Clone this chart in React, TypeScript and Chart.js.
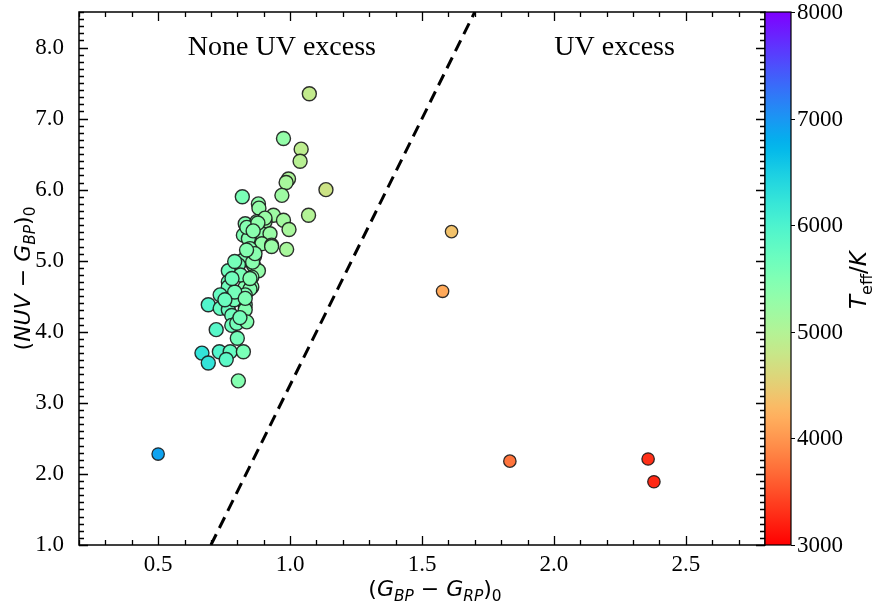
import { useEffect, useRef } from "react";
import { Chart, registerables } from "chart.js";
Chart.register(...registerables);

// ---- data ----
const clusterX = [
  1.073, 0.975, 1.042, 1.038, 0.994, 0.985, 1.136, 0.969, 0.819, 0.88,
  0.882, 0.937, 1.07, 0.975, 0.83, 0.874, 0.905, 0.996, 0.842, 0.893,
  0.924, 0.823, 0.842, 0.893, 0.93, 0.848, 0.987, 0.865, 0.823, 0.804,
  0.861, 0.88, 0.766, 0.855, 0.766, 0.83, 0.855, 0.766, 0.848, 0.735,
  0.798, 0.83, 0.69, 0.735, 0.766, 0.83, 0.83, 0.779, 0.779, 0.798,
  0.836, 0.72, 0.8, 0.666, 0.69, 0.732, 0.773, 0.758, 0.823, 0.804,
  0.836, 0.812, 0.788, 0.858, 0.905,
  0.867, 0.79, 0.753, 0.83, 0.878, 0.835, 0.848, 0.93, 0.86, 0.81, 0.79, 0.78,
];
const clusterY = [
  7.35, 6.72, 6.57, 6.4, 6.15, 6.1, 6.0, 5.92, 5.9, 5.8,
  5.74, 5.64, 5.64, 5.57, 5.52, 5.55, 5.55, 5.44, 5.41, 5.38,
  5.38, 5.36, 5.31, 5.24, 5.22, 5.17, 5.16, 5.06, 5.01, 4.94,
  4.94, 4.86, 4.86, 4.77, 4.7, 4.63, 4.63, 4.63, 4.6, 4.52,
  4.52, 4.52, 4.38, 4.33, 4.31, 4.38, 4.31, 4.23, 4.09, 4.12,
  4.14, 4.03, 3.91, 3.7, 3.56, 3.72, 3.72, 3.61, 3.72, 3.31,
  5.47, 4.8, 4.45, 4.98, 5.6,
  5.1, 4.56, 4.45, 4.47, 5.53, 5.15, 4.75, 5.2, 5.42, 4.2, 4.99, 4.75,
];
const clusterTeff = [
  4850, 5300, 4900, 4950, 5050, 5100, 4750, 5200, 5550, 5350,
  5300, 5200, 5000, 5150, 5450, 5350, 5250, 5100, 5450, 5350,
  5250, 5500, 5450, 5300, 5250, 5450, 5100, 5400, 5500, 5550,
  5400, 5300, 5650, 5400, 5650, 5450, 5400, 5650, 5450, 5750,
  5550, 5500, 5950, 5750, 5700, 5500, 5450, 5650, 5650, 5600,
  5450, 5900, 5600, 6250, 6250, 5950, 5750, 5850, 5550, 5450,
  5450, 5550, 5600, 5400, 5250,
  5400, 5600, 5700, 5500, 5350, 5450, 5450, 5250, 5400, 5600, 5600, 5650,
];
const otherX = [0.5, 1.612, 1.578, 1.833, 2.357, 2.379];
const otherY = [2.28, 5.41, 4.57, 2.18, 2.21, 1.89];
const otherTeff = [6900, 4375, 4150, 3750, 3300, 3250];

const boundaryX = [0.7, 1.7];
const boundaryY = [1.0, 8.5];

const xTicks = [0.5, 1.0, 1.5, 2.0, 2.5];
const yTicks = [1, 2, 3, 4, 5, 6, 7, 8];
const cbarTicks = [3000, 4000, 5000, 6000, 7000, 8000];
const X_MIN = 0.2, X_MAX = 2.8, Y_MIN = 1.0, Y_MAX = 8.5;
const T_MIN = 3000, T_MAX = 8000;

const SERIF = "'Liberation Serif', 'Times New Roman', serif";
const SANS = "'DejaVu Sans', sans-serif";

function rainbowR(T: number): string {
  let v = (T - T_MIN) / (T_MAX - T_MIN);
  v = Math.max(0, Math.min(1, v));
  const t = 1 - v;
  const cl = (a: number) => Math.max(0, Math.min(1, a));
  const r = cl(Math.abs(2 * t - 0.5));
  const g = cl(Math.sin(Math.PI * t));
  const b = cl(Math.cos((Math.PI * t) / 2));
  return `rgb(${Math.round(r * 255)},${Math.round(g * 255)},${Math.round(b * 255)})`;
}

type Seg = { t: string; it?: boolean; sub?: boolean };
function drawRich(ctx: CanvasRenderingContext2D, segs: Seg[], cx: number, cy: number, rot: number, size: number, family: string) {
  ctx.save();
  ctx.translate(cx, cy);
  ctx.rotate(rot);
  const subSize = size * 0.7;
  const fontOf = (s: Seg) => `${s.it ? "italic " : ""}${s.sub ? subSize : size}px ${family}`;
  let w = 0;
  for (const s of segs) {
    ctx.font = fontOf(s);
    w += ctx.measureText(s.t).width;
  }
  let x = -w / 2;
  ctx.textBaseline = "middle";
  ctx.textAlign = "left";
  ctx.fillStyle = "#000";
  for (const s of segs) {
    ctx.font = fontOf(s);
    ctx.fillText(s.t, x, s.sub ? size * 0.32 : 0);
    x += ctx.measureText(s.t).width;
  }
  ctx.restore();
}

const decorPlugin = {
  id: "decor",
  afterDatasetsDraw(chart: any) {
    const ctx: CanvasRenderingContext2D = chart.ctx;
    const { left, right, top, bottom } = chart.chartArea;
    const xs = chart.scales.x;
    const ys = chart.scales.y;
    ctx.save();
    // spines
    ctx.strokeStyle = "#000";
    ctx.lineWidth = 1.5;
    ctx.strokeRect(left, top, right - left, bottom - top);
    // inward ticks
    const MAJ = 9, MIN = 5;
    ctx.lineWidth = 1.3;
    ctx.beginPath();
    for (let i = Math.round(X_MIN * 10); i <= Math.round(X_MAX * 10); i++) {
      const v = i / 10;
      const isMaj = xTicks.some((m) => Math.abs(m - v) < 1e-6);
      const px = Math.round(xs.getPixelForValue(v)) + 0.5;
      const L = isMaj ? MAJ : MIN;
      ctx.moveTo(px, bottom); ctx.lineTo(px, bottom - L);
      ctx.moveTo(px, top); ctx.lineTo(px, top + L);
    }
    for (let i = Math.round(Y_MIN * 10); i <= Math.round(Y_MAX * 10); i++) {
      const v = i / 10;
      const isMaj = yTicks.some((m) => Math.abs(m - v) < 1e-6);
      const py = Math.round(ys.getPixelForValue(v)) + 0.5;
      const L = isMaj ? MAJ : MIN;
      ctx.moveTo(left, py); ctx.lineTo(left + L, py);
      ctx.moveTo(right, py); ctx.lineTo(right - L, py);
    }
    ctx.stroke();

    // colorbar
    const cbL = right, cbR = right + 26;
    const tToY = (T: number) => bottom - ((T - T_MIN) / (T_MAX - T_MIN)) * (bottom - top);
    const grad = ctx.createLinearGradient(0, bottom, 0, top);
    for (let k = 0; k <= 50; k++) {
      grad.addColorStop(k / 50, rainbowR(T_MIN + (k / 50) * (T_MAX - T_MIN)));
    }
    ctx.fillStyle = grad;
    ctx.fillRect(cbL, top, cbR - cbL, bottom - top);
    ctx.lineWidth = 1.2;
    ctx.strokeStyle = "#000";
    ctx.strokeRect(cbL, top, cbR - cbL, bottom - top);
    ctx.beginPath();
    ctx.font = `23px ${SERIF}`;
    ctx.fillStyle = "#000";
    ctx.textAlign = "left";
    ctx.textBaseline = "middle";
    for (const T of cbarTicks) {
      const py = Math.round(tToY(T)) + 0.5;
      ctx.moveTo(cbR, py); ctx.lineTo(cbR + 4, py);
    }
    ctx.stroke();
    for (const T of cbarTicks) {
      ctx.fillText(String(T), cbR + 6, tToY(T) + 1);
    }

    // annotations
    ctx.font = `28px ${SERIF}`;
    ctx.textAlign = "center";
    ctx.textBaseline = "middle";
    ctx.fillText("None UV excess", xs.getPixelForValue(0.969), ys.getPixelForValue(8.0));
    ctx.fillText("UV excess", xs.getPixelForValue(2.23), ys.getPixelForValue(8.0));

    // axis titles
    drawRich(ctx, [
      { t: "(" }, { t: "NUV", it: true }, { t: " \u2212 " }, { t: "G", it: true }, { t: "BP", it: true, sub: true }, { t: ")" }, { t: "0", sub: true },
    ], 24, (top + bottom) / 2, -Math.PI / 2, 22, SANS);
    drawRich(ctx, [
      { t: "(" }, { t: "G", it: true }, { t: "BP", it: true, sub: true }, { t: " \u2212 " }, { t: "G", it: true }, { t: "RP", it: true, sub: true }, { t: ")" }, { t: "0", sub: true },
    ], 435, 590, 0, 22, SANS);
    drawRich(ctx, [
      { t: "T", it: true }, { t: "eff", sub: true }, { t: "/" }, { t: "K", it: true },
    ], 860, 280, -Math.PI / 2, 23, SANS);
    ctx.restore();
  },
};

export default function App() {
  const ref = useRef<HTMLCanvasElement>(null);
  useEffect(() => {
    if (!ref.current) return;
    const cluster = clusterX.map((x, i) => ({ x, y: clusterY[i] }));
    const others = otherX.map((x, i) => ({ x, y: otherY[i] }));
    const boundary = boundaryX.map((x, i) => ({ x, y: boundaryY[i] }));
    const chart = new Chart(ref.current, {
      type: "scatter",
      data: {
        datasets: [
          {
            data: cluster,
            backgroundColor: (c: any) => rainbowR(clusterTeff[c.dataIndex]),
            borderColor: "rgba(25,25,25,0.9)",
            borderWidth: 1.4,
            pointRadius: 7,
          },
          {
            data: others,
            backgroundColor: (c: any) => rainbowR(otherTeff[c.dataIndex]),
            borderColor: "rgba(25,25,25,0.9)",
            borderWidth: 1.3,
            pointRadius: 6.2,
          },
          {
            type: "line",
            data: boundary,
            borderColor: "#000",
            borderWidth: 3,
            borderDash: [12, 7],
            pointRadius: 0,
            showLine: true,
            fill: false,
          } as any,
        ],
      },
      options: {
        responsive: false,
        animation: false,
        layout: { autoPadding: false, padding: { left: 0, top: 12, right: 112, bottom: 0 } },
        plugins: { legend: { display: false }, tooltip: { enabled: false } },
        scales: {
          x: {
            type: "linear",
            min: X_MIN,
            max: X_MAX,
            grid: { display: false, drawTicks: false },
            border: { display: false },
            afterBuildTicks: (s: any) => { s.ticks = xTicks.map((v) => ({ value: v })); },
            afterFit: (s: any) => { s.height = 64; s.paddingLeft = 0; s.paddingRight = 0; },
            ticks: {
              callback: (v: any) => Number(v).toFixed(1),
              font: { family: SERIF, size: 23 },
              color: "#000",
              padding: 6,
              maxRotation: 0,
              autoSkip: false,
            },
          },
          y: {
            type: "linear",
            min: Y_MIN,
            max: Y_MAX,
            grid: { display: false, drawTicks: false },
            border: { display: false },
            afterBuildTicks: (s: any) => { s.ticks = yTicks.map((v) => ({ value: v })); },
            afterFit: (s: any) => { s.width = 79; s.paddingTop = 0; s.paddingBottom = 0; },
            ticks: {
              callback: (v: any) => Number(v).toFixed(1),
              font: { family: SERIF, size: 23 },
              color: "#000",
              padding: 15,
              autoSkip: false,
            },
          },
        },
      } as any,
      plugins: [decorPlugin],
    });
    return () => chart.destroy();
  }, []);
  return (
    <div style={{ position: "fixed", left: 0, top: 0, width: 877, height: 609, background: "#fff" }}>
      <canvas ref={ref} width={877} height={609} style={{ width: 877, height: 609 }} />
    </div>
  );
}
